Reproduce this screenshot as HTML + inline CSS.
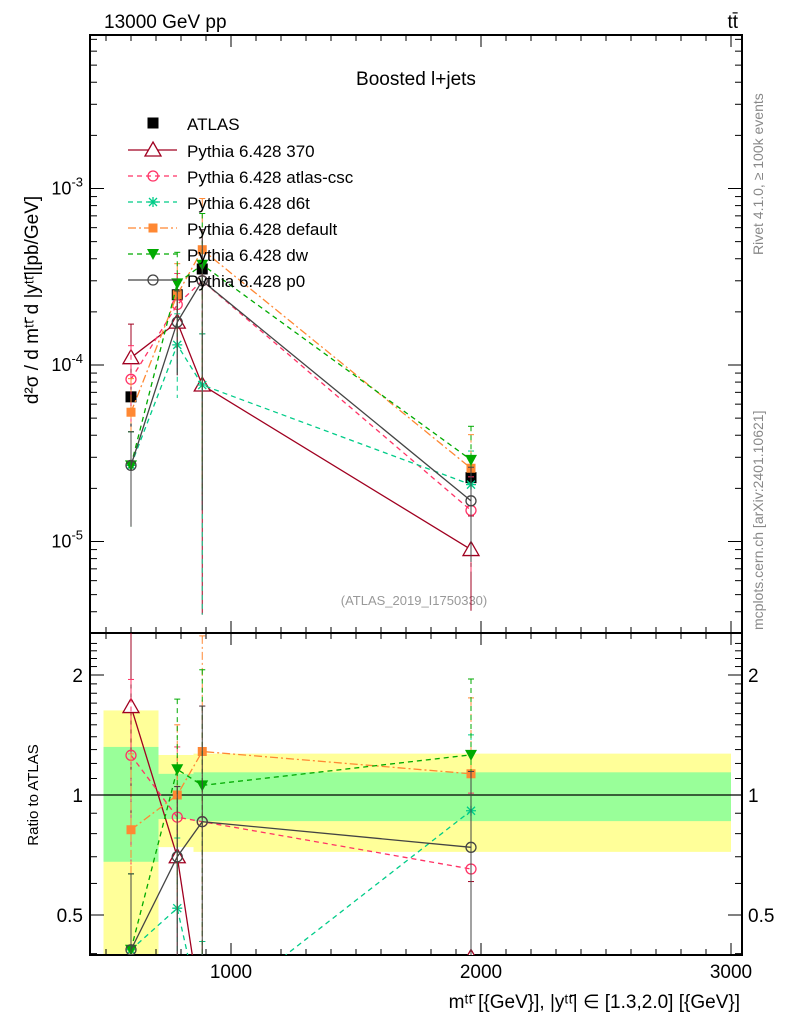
<!DOCTYPE html>
<html><head><meta charset="utf-8"><style>
html,body{margin:0;padding:0;background:#fff;font-family:"Liberation Sans",sans-serif;overflow:hidden;width:786px;height:1024px}
svg{display:block}
svg text{font-family:"Liberation Sans",sans-serif}
</style></head><body>
<svg id="c" width="786" height="1024" xmlns="http://www.w3.org/2000/svg">
<defs>
<clipPath id="cm"><rect x="90" y="35" width="652" height="598"/></clipPath>
<clipPath id="cr"><rect x="90" y="633" width="652" height="322"/></clipPath>
</defs>
<text x="104" y="28" font-size="19">13000 GeV pp</text>
<text x="738" y="28" font-size="19" text-anchor="end">tt̄</text>
<text x="416" y="85" font-size="19" text-anchor="middle">Boosted l+jets</text>
<text x="414" y="605" font-size="13" fill="#999" text-anchor="middle">(ATLAS_2019_I1750330)</text>
<text transform="translate(763,255) rotate(-90)" font-size="14" fill="#888">Rivet 4.1.0, ≥ 100k events</text>
<text transform="translate(763,630) rotate(-90)" font-size="14" fill="#888">mcplots.cern.ch [arXiv:2401.10621]</text>
<text transform="translate(38,300) rotate(-90)" font-size="19" text-anchor="middle">d²σ / d mᵗᵗ̄ d |yᵗᵗ̄|[pb/GeV]</text>
<text transform="translate(38,795) rotate(-90)" font-size="15" text-anchor="middle">Ratio to ATLAS</text>
<text x="740" y="1008" font-size="19" text-anchor="end">mᵗᵗ̄ [{GeV}], |yᵗᵗ̄| ∈ [1.3,2.0] [{GeV}]</text>
<g id="g"></g>
</svg>
<script>
const xCenters=[600,785,885,1960];
const atlas=[6.6e-5,2.5e-4,3.5e-4,2.3e-5];
const atlasErr=[0.6,0.3,0.3,0.3];
const s370=[1.1e-4,1.75e-4,7.7e-5,9e-6];
const sCsc=[8.3e-5,2.2e-4,3.0e-4,1.5e-5];
const sD6t=[2.7e-5,1.3e-4,7.7e-5,2.1e-5];
const sDef=[5.4e-5,2.5e-4,4.5e-4,2.6e-5];
const sDw=[2.7e-5,2.9e-4,3.7e-4,2.9e-5];
const sP0=[2.7e-5,1.75e-4,3.0e-4,1.7e-5];
const mcErr=[0.55,0.5,0.95,0.55];
const binEdges=[490,710,850,3000];
const bandGreenLo=[0.68,0.87,0.86];
const bandGreenHi=[1.32,1.13,1.14];
const bandYellowLo=[0.38,0.74,0.72];
const bandYellowHi=[1.63,1.26,1.27];
const xTicks=[1000,2000,3000];
const yTicks=[-5,-4,-3];
const rTicks=[0.5,1,2];

const cl=y=>Math.min(1020,Math.max(0,y));
const X=v=>90+(v-436)*0.25;
const Y=v=>cl(365-(Math.log10(v)+4)*176.5);
const R=v=>cl(795-Math.log2(v)*120);
const NS='http://www.w3.org/2000/svg';
const G=document.getElementById('g');
function mk(t,a,p){const e=document.createElementNS(NS,t);for(const k in a)e.setAttribute(k,a[k]);(p||G).appendChild(e);return e;}

for(let i=0;i<3;i++){
 const x0=X(binEdges[i]),x1=X(binEdges[i+1]);
 const y=mk('rect',{x:x0,y:R(bandYellowHi[i]),width:x1-x0,height:Math.min(955,R(bandYellowLo[i]))-R(bandYellowHi[i]),fill:'#ffff99'});
 
 
 const g=mk('rect',{x:x0,y:R(bandGreenHi[i]),width:x1-x0,height:R(bandGreenLo[i])-R(bandGreenHi[i]),fill:'#99ff99'});
 
 
}
mk('line',{x1:90,x2:742,y1:R(1),y2:R(1),stroke:'#000','stroke-width':1.3});

for(const [y0,h] of [[35,598],[633,322]]){
 const f=mk('rect',{x:90,y:y0,width:652,height:h,fill:'none',stroke:'#000','stroke-width':2});
 
 
}
for(let v=500;v<=3000;v+=100){
 const big=v%1000==0, x=X(v);
 for(const [yb,yt] of [[633,35],[955,633]]){
  mk('line',{x1:x,x2:x,y1:yb,y2:yb-(big?12:6),stroke:'#000'});
  mk('line',{x1:x,x2:x,y1:yt,y2:yt+(big?12:6),stroke:'#000'});
 }
}
xTicks.forEach(v=>{const t=mk('text',{x:X(v),y:978,'font-size':19,'text-anchor':'middle'});t.textContent=v;
 });
for(let d=-6;d<=-2;d++)for(let m=1;m<10;m++){
 const v=m*Math.pow(10,d),y=365-(Math.log10(v)+4)*176.5;if(y<35||y>633)continue;
 const L=m==1?14:7;
 mk('line',{x1:90,x2:90+L,y1:y,y2:y,stroke:'#000'});mk('line',{x1:742,x2:742-L,y1:y,y2:y,stroke:'#000'});
}
yTicks.forEach(d=>{const t=mk('text',{x:83,y:Y(Math.pow(10,d))+6,'font-size':18,'text-anchor':'end'});
 t.innerHTML='10<tspan dy="-8" font-size="13">'+d+'</tspan>';
 });
for(let v=0.4;v<=2.5;v+=0.1){const y=795-Math.log2(v)*120;if(y<633||y>955)continue;
 const big=[0.5,1,2].some(q=>Math.abs(q-v)<1e-6);const L=big?14:7;
 mk('line',{x1:90,x2:90+L,y1:y,y2:y,stroke:'#000'});mk('line',{x1:742,x2:742-L,y1:y,y2:y,stroke:'#000'});}
rTicks.forEach(v=>{for(const [x,a] of [[83,'end'],[748,'start']]){const t=mk('text',{x:x,y:R(v)+7,'font-size':19,'text-anchor':a});t.textContent=v;
 }});

function marker(type,x,y,c,p){
 const a={stroke:c,'stroke-width':1.3};
 if(type=='tri')return mk('path',Object.assign(a,{d:`M${x},${y-8}L${x+8},${y+6}L${x-8},${y+6}Z`,fill:'#fff'}),p);
 if(type=='circ')return mk('circle',Object.assign(a,{cx:x,cy:y,r:5,fill:'none'}),p);
 if(type=='star')return mk('path',Object.assign(a,{d:`M${x-5},${y}h10M${x},${y-5}v10M${x-4},${y-4}l8,8M${x+4},${y-4}l-8,8`,fill:'none'}),p);
 if(type=='sq')return mk('rect',{x:x-4.5,y:y-4.5,width:9,height:9,fill:c},p);
 if(type=='dtri')return mk('path',{d:`M${x-6},${y-5}L${x+6},${y-5}L${x},${y+6}Z`,fill:c},p);
 if(type=='bsq')return mk('rect',{x:x-5.5,y:y-5.5,width:11,height:11,fill:c},p);
}
const series=[
 {name:'Pythia 6.428 370',v:s370,c:'#a00020',dash:'',m:'tri',id:'370'},
 {name:'Pythia 6.428 atlas-csc',v:sCsc,c:'#ff3366',dash:'5,4',m:'circ',id:'atlas-csc'},
 {name:'Pythia 6.428 d6t',v:sD6t,c:'#00cc88',dash:'5,4',m:'star',id:'d6t'},
 {name:'Pythia 6.428 default',v:sDef,c:'#ff8833',dash:'8,3,2,3',m:'sq',id:'default'},
 {name:'Pythia 6.428 dw',v:sDw,c:'#00aa00',dash:'5,4',m:'dtri',id:'dw'},
 {name:'Pythia 6.428 p0',v:sP0,c:'#444444',dash:'',m:'circ',id:'p0'}];

const ga=mk('g',{'clip-path':'url(#cm)'});


xCenters.forEach((xv,i)=>{const x=X(xv);
 mk('line',{x1:x,x2:x,y1:Y(atlas[i]*(1+atlasErr[i])),y2:Y(atlas[i]*Math.max(0.05,1-atlasErr[i])),stroke:'#000'},ga);
 marker('bsq',x,Y(atlas[i]),'#000',ga);});

series.forEach(s=>{
 for(const [clip,F,vals] of [['cm',Y,s.v],['cr',R,s.v.map((v,i)=>v/atlas[i])]]){
  const g=mk('g',{'clip-path':`url(#${clip})`});
  
  
  xCenters.forEach((xv,i)=>{const x=X(xv),v=vals[i];
   mk('line',{x1:x,x2:x,y1:F(v*(1+mcErr[i])),y2:F(v*Math.max(0.01,1-mcErr[i])),stroke:s.c,'stroke-dasharray':s.dash},g);
   mk('line',{x1:x-3,x2:x+3,y1:F(v*(1+mcErr[i])),y2:F(v*(1+mcErr[i])),stroke:s.c},g);});
  mk('polyline',{points:xCenters.map((xv,i)=>X(xv)+','+F(vals[i])).join(' '),fill:'none',stroke:s.c,'stroke-width':1.3,'stroke-dasharray':s.dash},g);
  xCenters.forEach((xv,i)=>marker(s.m,X(xv),F(vals[i]),s.c,g));
 }
});
const lg=mk('g',{});


marker('bsq',153,123,'#000',lg);
let t=mk('text',{x:187,y:130,'font-size':17},lg);t.textContent='ATLAS';
series.forEach((s,i)=>{const y=150+i*26;
 const e=mk('g',{},lg);
 
 
 mk('line',{x1:128,x2:177,y1:y,y2:y,stroke:s.c,'stroke-width':1.3,'stroke-dasharray':s.dash},e);
 marker(s.m,153,y,s.c,e);
 const tt=mk('text',{x:187,y:y+7,'font-size':17},e);tt.textContent=s.name;});
</script>
</body></html>
